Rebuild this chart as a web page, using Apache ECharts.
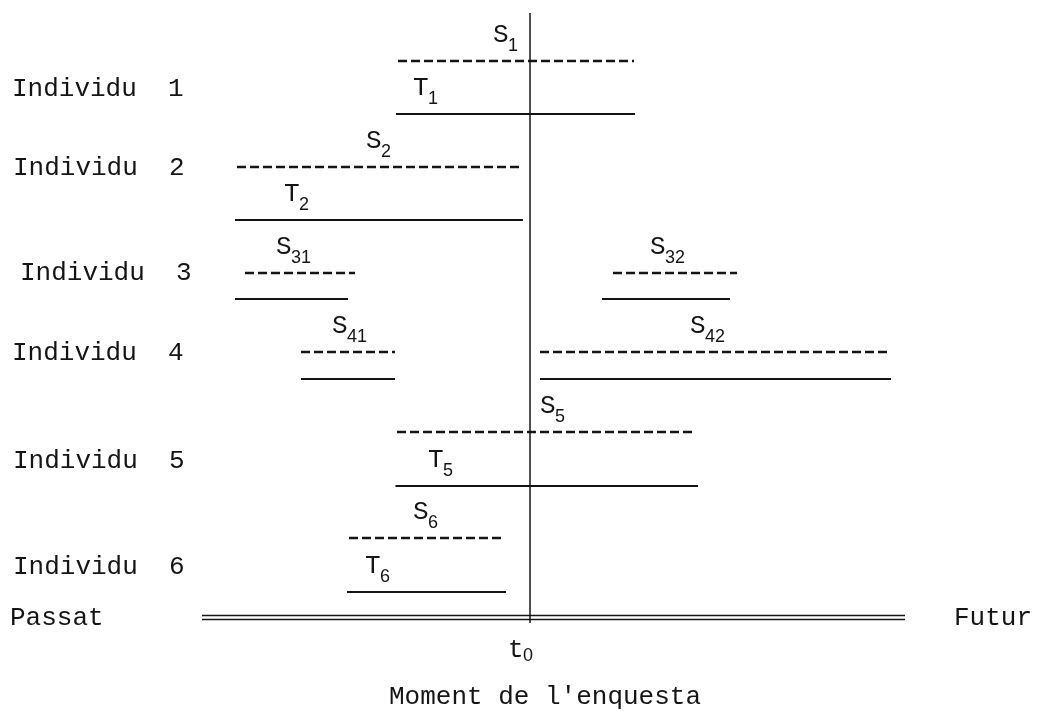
<!DOCTYPE html>
<html><head><meta charset="utf-8">
<script src="https://cdn.jsdelivr.net/npm/echarts@6/dist/echarts.min.js"></script>
<style>html,body{margin:0;padding:0;background:#fff}#c{width:1037px;height:711px}</style>
</head><body><div id="c"></div>
<script>
// ---- data (time units relative to t0 = 0; level = vertical position of each line) ----
const segmentNames  = ['S1','T1','S2','T2','S31','T31','S32','T32','S41','T41','S42','T42','S5','T5','S6','T6'];
const segmentKind   = ['dashed','solid','dashed','solid','dashed','solid','dashed','solid','dashed','solid','dashed','solid','dashed','solid','dashed','solid'];
const segmentStart  = [-13.2,-13.4,-29.3,-29.5,-28.5,-29.5, 8.3, 7.2,-22.9,-22.9, 1.0, 1.0,-13.3,-13.45,-18.1,-18.3];
const segmentEnd    = [ 10.4, 10.5, -0.9, -0.7,-17.5,-18.2,20.7,20.0,-13.5,-13.5,36.0,36.1, 16.6, 16.8, -2.5, -2.4];
const segmentLevel  = [  5.5, 10.8, 16.1, 21.4, 26.7, 29.3,26.7,29.3, 34.6, 37.3,34.6,37.3, 42.6, 48.0, 53.2, 58.6];
const labelLetter   = ['S','T','S','T','S','','S','','S','','S','','S','T','S','T'];
const labelIndex    = ['1','1','2','2','31','','32','','41','','42','','5','5','6','6'];
const labelAt       = [-3.7,-11.7,-16.4,-24.6,-25.4,null,12.0,null,-19.8,null,16.0,null,1.0,-10.2,-11.7,-16.5];

const rowNames  = ['Individu  1','Individu  2','Individu  3','Individu  4','Individu  5','Individu  6'];
const rowLevel  = [8.3, 16.2, 26.7, 34.7, 45.5, 56.1];

const timeMin = -32.8;
const timeMax = 37.5;
const baselineLevel = 61;
const surveyTime = 0;          // t0
const surveyLineFrom = 0.7;
const surveyLineTo = 61.7;
const axisLeftText = 'Passat';
const axisRightText = 'Futur';
const surveyName = "Moment de l'enquesta";

// ---- chart ----
const INK = '#151515';
const MAIN_FONT = '26px "Liberation Mono", "Courier New", monospace';
const SUB_FONT = '18px "Liberation Sans", Arial, sans-serif';
const rowLeftPx = [12, 13, 20, 12, 13, 13];

const chart = echarts.init(document.getElementById('c'), null, {renderer: 'canvas'});

const segData = segmentNames.map((n, i) => ({name: n, value: [segmentStart[i], segmentEnd[i], segmentLevel[i], i]}));
const rowData = rowNames.map((n, i) => ({name: n, value: [0, rowLevel[i], i]}));

chart.setOption({
  animation: false,
  backgroundColor: '#fff',
  grid: {left: 202, right: 132, top: 6, bottom: 95},
  xAxis: {
    type: 'value', min: timeMin, max: timeMax,
    axisTick: {show: false}, axisLabel: {show: false}, splitLine: {show: false}, axisLine: {show: false}
  },
  yAxis: {type: 'value', inverse: true, min: 0, max: 61, show: false},
  graphic: [
    {type: 'text', x: 10, y: 618, style: {text: axisLeftText, font: MAIN_FONT, fill: INK, align: 'left', verticalAlign: 'middle'}},
    {type: 'text', x: 954, y: 618, style: {text: axisRightText, font: MAIN_FONT, fill: INK, align: 'left', verticalAlign: 'middle'}},
    {type: 'text', x: 545, y: 697, style: {text: surveyName, font: MAIN_FONT, fill: INK, align: 'center', verticalAlign: 'middle'}}
  ],
  series: [
    {
      // double time axis (Passat -> Futur)
      type: 'custom', clip: false, data: [[timeMin, timeMax, baselineLevel]],
      renderItem(params, api) {
        const a = api.coord([api.value(0), api.value(2)]);
        const b = api.coord([api.value(1), api.value(2)]);
        return {type: 'group', children: [
          {type: 'line', shape: {x1: a[0], y1: a[1] - 0.5, x2: b[0], y2: b[1] - 0.5}, style: {stroke: INK, lineWidth: 1.5}},
          {type: 'line', shape: {x1: a[0], y1: a[1] + 3.5, x2: b[0], y2: b[1] + 3.5}, style: {stroke: INK, lineWidth: 1.5}}
        ]};
      }
    },
    {
      type: 'custom', clip: false, data: segData,
      renderItem(params, api) {
        const i = api.value(3);
        const lvl = api.value(2);
        const p1 = api.coord([api.value(0), lvl]);
        const p2 = api.coord([api.value(1), lvl]);
        const dashed = segmentKind[i] === 'dashed';
        const children = [{
          type: 'line',
          shape: {x1: p1[0], y1: p1[1], x2: p2[0], y2: p2[1]},
          style: {stroke: INK, lineWidth: dashed ? 2.6 : 1.8, lineDash: dashed ? [9, 4] : null}
        }];
        if (labelLetter[i]) {
          const lp = api.coord([labelAt[i], lvl]);
          children.push({type: 'text', x: lp[0], y: lp[1] - 25.5,
            style: {text: labelLetter[i], font: MAIN_FONT, fill: INK, align: 'left', verticalAlign: 'middle'}});
          children.push({type: 'text', x: lp[0] + 15, y: lp[1] - 15,
            style: {text: labelIndex[i], font: SUB_FONT, fill: INK, align: 'left', verticalAlign: 'middle'}});
        }
        return {type: 'group', children};
      }
    },
    {
      type: 'custom', clip: false, data: [[surveyTime, surveyLineFrom, surveyLineTo]],
      renderItem(params, api) {
        const a = api.coord([api.value(0), api.value(1)]);
        const b = api.coord([api.value(0), api.value(2)]);
        return {type: 'group', children: [
          {type: 'line', shape: {x1: a[0], y1: a[1], x2: b[0], y2: b[1]}, style: {stroke: INK, lineWidth: 1.5}},
          {type: 'text', x: a[0] - 22, y: 650, style: {text: 't', font: MAIN_FONT, fill: INK, align: 'left', verticalAlign: 'middle'}},
          {type: 'text', x: a[0] - 7, y: 656, style: {text: '0', font: SUB_FONT, fill: INK, align: 'left', verticalAlign: 'middle'}}
        ]};
      }
    },
    {
      type: 'custom', clip: false, data: rowData,
      renderItem(params, api) {
        const i = api.value(2);
        const p = api.coord([0, api.value(1)]);
        return {type: 'text', x: rowLeftPx[i], y: p[1],
          style: {text: rowNames[i], font: MAIN_FONT, fill: INK, align: 'left', verticalAlign: 'middle'}};
      }
    }
  ]
});
</script>
</body></html>
